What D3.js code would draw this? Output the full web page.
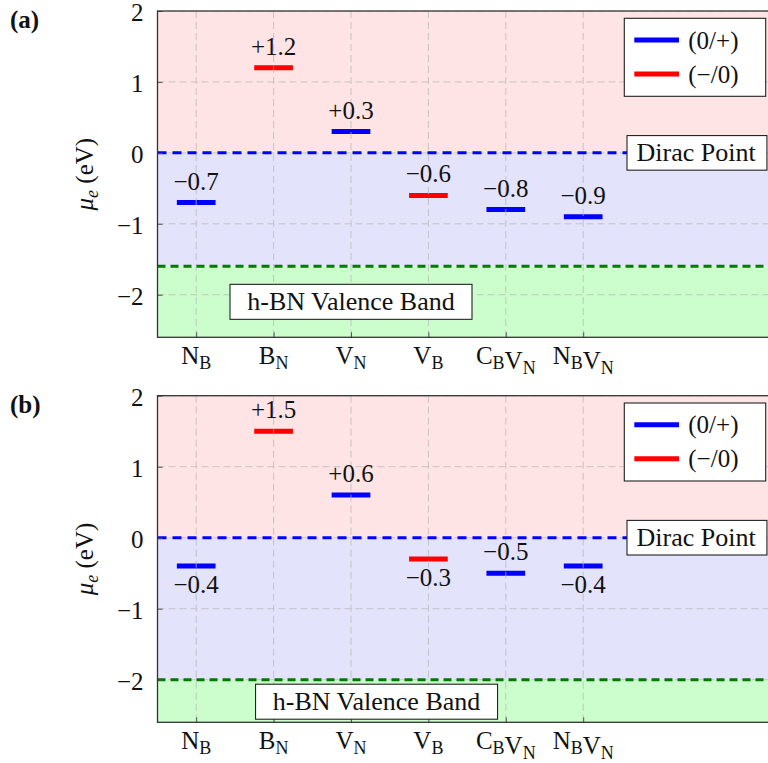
<!DOCTYPE html>
<html>
<head>
<meta charset="utf-8">
<script src="https://cdn.jsdelivr.net/npm/d3@7"></script>
<style>
  html, body { margin: 0; padding: 0; background: #fff; overflow: hidden; }
  svg text { font-family: "Liberation Serif", "DejaVu Serif", serif; }
</style>
</head>
<body>
<svg id="chart" width="768" height="763" font-family="Liberation Serif"></svg>
<script>
// Defect categories: each label is a list of [symbol, subscript] pairs
const categories = [
  [["N", "B"]],
  [["B", "N"]],
  [["V", "N"]],
  [["V", "B"]],
  [["C", "B"], ["V", "N"]],
  [["N", "B"], ["V", "N"]]
];
// Charge transition for each defect: "0/+" (blue) or "-/0" (red)
const transitions = ["0/+", "-/0", "0/+", "-/0", "0/+", "0/+"];

// Transition levels (eV) for the two panels
const levelsA = [-0.7, 1.2, 0.3, -0.6, -0.8, -0.9];
const levelsB = [-0.4, 1.5, 0.6, -0.3, -0.5, -0.4];
// Whether each value label sits above or below its level
const labelSideA = ["above", "above", "above", "above", "above", "above"];
const labelSideB = ["below", "above", "above", "below", "above", "below"];

// h-BN valence band maximum for each panel (eV)
const valenceBand = [-1.6, -2.0];
const diracPoint = 0;

const yTicks = [-2, -1, 0, 1, 2];
const legendLabels = ["(0/+)", "(\u2212/0)"];

const colors = { "0/+": "#0000ff", "-/0": "#ff0000" };
const FONT = "Liberation Serif";

const svg = d3.select("#chart");
const left = 157.5, right = 157.5 + 8 * 77.4;

function fmt(v) {
  const s = Math.abs(v).toFixed(1);
  return (v < 0 ? "\u2212" : "+") + s;
}

function txt(sel) {
  return sel.append("text").attr("font-family", FONT).attr("fill", "#111");
}

function drawPanel(cfg) {
  const g = svg.append("g");
  const x = d3.scaleLinear().domain([0.5, 8.5]).range([left, right]);
  const y = d3.scaleLinear().domain([-2.6, 2]).range([cfg.bottom, cfg.top]);
  const x0 = x.range()[0], x1 = x.range()[1];

  const clipId = "clip-" + cfg.name;
  svg.append("defs").append("clipPath").attr("id", clipId)
    .append("rect").attr("x", x0).attr("y", cfg.top)
    .attr("width", x1 - x0).attr("height", cfg.bottom - cfg.top);

  const plot = g.append("g").attr("clip-path", `url(#${clipId})`);

  // Shaded energy regions
  plot.append("rect").attr("x", x0).attr("width", x1 - x0)
    .attr("y", y(2)).attr("height", y(diracPoint) - y(2)).attr("fill", "#fee4e4");
  plot.append("rect").attr("x", x0).attr("width", x1 - x0)
    .attr("y", y(diracPoint)).attr("height", y(cfg.vb) - y(diracPoint)).attr("fill", "#e3e3fb");
  plot.append("rect").attr("x", x0).attr("width", x1 - x0)
    .attr("y", y(cfg.vb)).attr("height", y(-2.6) - y(cfg.vb)).attr("fill", "#ccfdcc");

  // Transition level marks
  plot.selectAll("line.level").data(cfg.levels).enter().append("line")
    .attr("class", "level")
    .attr("x1", (d, i) => x(i + 1 - 0.25))
    .attr("x2", (d, i) => x(i + 1 + 0.25))
    .attr("y1", d => y(d)).attr("y2", d => y(d))
    .attr("stroke", (d, i) => colors[transitions[i]])
    .attr("stroke-width", 5);

  // Major grid
  const grid = plot.append("g").attr("stroke", "#b8b8b8").attr("stroke-width", 1)
    .attr("stroke-dasharray", "7,4").attr("opacity", 0.75);
  grid.selectAll("line.gx").data(d3.range(1, categories.length + 1)).enter().append("line")
    .attr("x1", d => x(d)).attr("x2", d => x(d))
    .attr("y1", cfg.top).attr("y2", cfg.bottom);
  grid.selectAll("line.gy").data(yTicks).enter().append("line")
    .attr("y1", d => y(d)).attr("y2", d => y(d))
    .attr("x1", x0).attr("x2", x1);

  // Dirac point and valence band edges
  plot.append("line").attr("x1", x0).attr("x2", x1)
    .attr("y1", y(diracPoint)).attr("y2", y(diracPoint))
    .attr("stroke", "#0000ff").attr("stroke-width", 3).attr("stroke-dasharray", "9,6");
  plot.append("line").attr("x1", x0).attr("x2", x1)
    .attr("y1", y(cfg.vb)).attr("y2", y(cfg.vb))
    .attr("stroke", "#007a00").attr("stroke-width", 3).attr("stroke-dasharray", "8,5");

  // Value labels
  cfg.levels.forEach((d, i) => {
    txt(g).attr("x", x(i + 1))
      .attr("y", cfg.sides[i] === "above" ? y(d) - 13 : y(d) + 27)
      .attr("text-anchor", "middle").attr("font-size", 25)
      .text(fmt(d));
  });

  // Axes
  const yAxis = d3.axisLeft(y).tickValues(yTicks).tickSize(-5).tickPadding(14)
    .tickFormat(d => d < 0 ? "\u2212" + Math.abs(d) : String(d));
  const ya = g.append("g").attr("transform", `translate(${x0},0)`).call(yAxis)
    .attr("font-family", FONT);
  ya.select(".domain").remove();
  ya.selectAll(".tick line").attr("stroke", "#555");
  ya.selectAll(".tick text").attr("font-size", 25).attr("font-family", FONT)
    .attr("fill", "#111").attr("dy", "0.38em");

  const xAxis = d3.axisBottom(x).tickValues(d3.range(1, categories.length + 1))
    .tickSize(-5).tickFormat("");
  const xa = g.append("g").attr("transform", `translate(0,${cfg.bottom})`).call(xAxis);
  xa.select(".domain").remove();
  xa.selectAll(".tick line").attr("stroke", "#555");

  // Category labels with subscripts
  categories.forEach((parts, i) => {
    const t = txt(g).attr("x", x(i + 1)).attr("y", cfg.bottom + 27)
      .attr("text-anchor", "middle").attr("font-size", 25);
    parts.forEach(p => {
      t.append("tspan").text(p[0]);
      t.append("tspan").attr("font-size", 18).attr("dy", 5).text(p[1]);
      t.append("tspan").attr("dy", -5).text("");
    });
  });

  // Frame
  g.append("rect").attr("x", x0).attr("y", cfg.top)
    .attr("width", x1 - x0).attr("height", cfg.bottom - cfg.top)
    .attr("fill", "none").attr("stroke", "#333").attr("stroke-width", 1.3);

  // Dirac point tag
  const dp = g.append("g");
  const dpText = txt(dp).attr("x", 636.5).attr("y", y(diracPoint) + 8.5)
    .attr("font-size", 26).text("Dirac Point");
  const dpW = dpText.node().getBBox().width;
  dp.insert("rect", "text").attr("x", 627).attr("y", y(diracPoint) - 17.3)
    .attr("width", dpW + 20).attr("height", 34.6)
    .attr("fill", "#fff").attr("stroke", "#222").attr("stroke-width", 1.1);

  // Valence band tag
  const vb = g.append("g");
  const cx = x(cfg.vbLabel[0]), cy = y(cfg.vbLabel[1]);
  const vbText = txt(vb).attr("x", cx).attr("y", cy + 8.5)
    .attr("text-anchor", "middle").attr("font-size", 26)
    .text("h-BN Valence Band");
  const vbW = Math.max(vbText.node().getBBox().width + 20, 242);
  vb.insert("rect", "text").attr("x", cx - vbW / 2).attr("y", cy - 17.5)
    .attr("width", vbW).attr("height", 35)
    .attr("fill", "#fff").attr("stroke", "#222").attr("stroke-width", 1.1);

  // Legend
  const lg = g.append("g");
  const lx = 624.3, ly = cfg.top + 7.3;
  lg.append("rect").attr("x", lx).attr("y", ly).attr("width", 141.4).attr("height", 78)
    .attr("fill", "#fff").attr("stroke", "#222").attr("stroke-width", 1.1);
  ["0/+", "-/0"].forEach((k, i) => {
    const yy = ly + 21.7 + i * 34;
    lg.append("line").attr("x1", lx + 10).attr("x2", lx + 54.7)
      .attr("y1", yy).attr("y2", yy)
      .attr("stroke", colors[k]).attr("stroke-width", 5);
    txt(lg).attr("x", lx + 64).attr("y", yy + 8.5)
      .attr("font-size", 25).text(legendLabels[i]);
  });

  // Y-axis title
  const yl = txt(g)
    .attr("transform", `translate(93,${(cfg.top + cfg.bottom) / 2}) rotate(-90)`)
    .attr("text-anchor", "middle").attr("font-size", 25);
  yl.append("tspan").attr("font-style", "italic").text("\u03bc");
  yl.append("tspan").attr("font-style", "italic").attr("font-size", 18).attr("dy", 5).text("e");
  yl.append("tspan").attr("dy", -5).text(" (eV)");

  // Panel tag
  txt(g).attr("x", 10).attr("y", cfg.top + 17)
    .attr("font-size", 25).attr("font-weight", "bold")
    .text(cfg.tag);
}

drawPanel({ name: "a", tag: "(a)", top: 11, bottom: 337.3, levels: levelsA,
  sides: labelSideA, vb: valenceBand[0], vbLabel: [3, -2.1] });
drawPanel({ name: "b", tag: "(b)", top: 395.7, bottom: 722.3, levels: levelsB,
  sides: labelSideB, vb: valenceBand[1], vbLabel: [3.33, -2.31] });
</script>
</body>
</html>
